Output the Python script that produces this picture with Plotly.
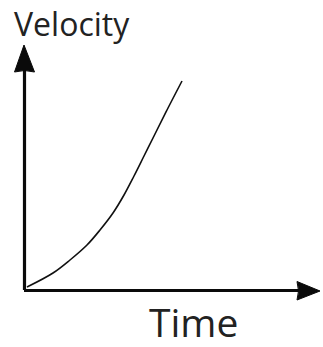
import plotly.graph_objects as go

# Velocity-time curve (arbitrary units, origin at the corner of the axes)
time = [3, 29, 46, 63, 76, 89, 100, 110, 120, 130, 143, 158]
velocity = [3, 17, 30, 45, 60, 77, 95, 114, 134, 154, 180, 209]

x_label = "Time"
y_label = "Velocity"

fig = go.Figure()
fig.add_trace(go.Scatter(
    x=time, y=velocity, mode="lines",
    line=dict(color="#111111", width=1.6, shape="spline", smoothing=1.0),
    hoverinfo="skip", showlegend=False,
))

axis_color = "#0a0a0a"
# axis shafts
fig.add_shape(type="line", x0=0.5, y0=0, x1=0.5, y1=222,
              line=dict(color=axis_color, width=3.2), layer="above")
fig.add_shape(type="line", x0=0, y0=-0.5, x1=276, y1=-0.5,
              line=dict(color=axis_color, width=3.2), layer="above")
# arrow heads
fig.add_shape(type="path",
              path="M 0,245 L 10.5,218 Q 0.5,221 -9.5,218 Z",
              fillcolor=axis_color, line=dict(color=axis_color, width=1), layer="above")
fig.add_shape(type="path",
              path="M 296,-1 L 273,8.5 Q 276,-1 273,-10 Z",
              fillcolor=axis_color, line=dict(color=axis_color, width=1), layer="above")

fig.add_annotation(x=48, y=267, xref="x", yref="y", text=y_label, showarrow=False,
                   font=dict(family="Open Sans", size=32, color="#222222"),
                   xanchor="center", yanchor="middle")
fig.add_annotation(x=169, y=-31, xref="x", yref="y", text=x_label, showarrow=False,
                   font=dict(family="Open Sans", size=39, color="#222222"),
                   xanchor="center", yanchor="middle")

fig.update_xaxes(range=[-24, 299], visible=False, fixedrange=True)
fig.update_yaxes(range=[-57, 290], visible=False, fixedrange=True)
fig.update_layout(
    width=323, height=347,
    margin=dict(l=0, r=0, t=0, b=0),
    paper_bgcolor="white", plot_bgcolor="white",
)

fig.write_html("out.html", config={"displayModeBar": False})
